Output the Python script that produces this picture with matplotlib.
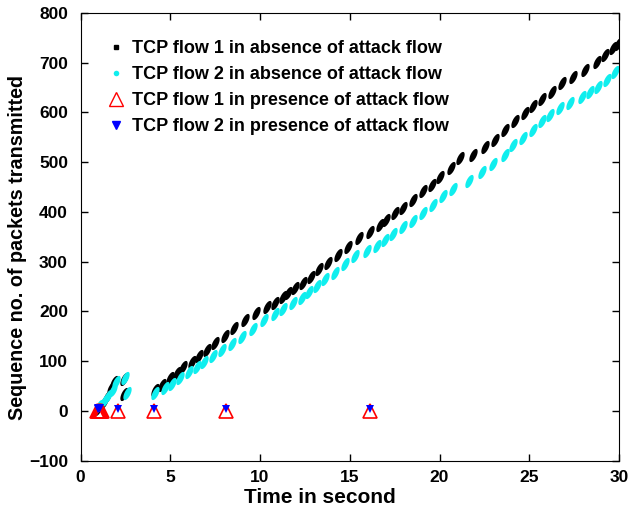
import numpy as np
import matplotlib
matplotlib.use("Agg")
import matplotlib.pyplot as plt
from matplotlib.path import Path
from matplotlib.lines import Line2D

plt.rcParams['font.family'] = ['Liberation Sans', 'DejaVu Sans']
plt.rcParams['font.weight'] = 'bold'

# ---- data (burst centres) ----
flow1_abs_t = [1.0, 1.3, 1.5, 1.72, 1.86, 2.42, 2.45,
               4.15, 4.52, 4.99, 5.36, 5.73, 6.19, 6.60, 7.03, 7.51, 8.05, 8.57, 9.16, 9.78,
               10.38, 10.84, 11.30, 11.58, 11.95, 12.38, 12.82, 13.30, 13.80, 14.33, 14.92,
               15.53, 16.13, 16.69, 17.02, 17.52, 17.98, 18.54, 19.10, 19.56, 20.03, 20.62,
               21.14, 21.85, 22.53, 23.09, 23.65, 24.20, 24.76, 25.23, 25.69, 26.25, 26.81,
               27.45, 28.10, 28.76, 29.22, 29.68, 29.96]
flow1_abs_seq = [3, 18, 28, 45, 57, 64, 33,
                 42, 52, 65, 75, 89, 99, 110, 122, 136, 150, 166, 183, 197,
                 208, 217, 228, 236, 246, 256, 270, 285, 298, 313, 329,
                 347, 360, 374, 384, 397, 407, 424, 441, 454, 470, 488,
                 508, 514, 530, 545, 565, 582, 598, 612, 628, 642, 659,
                 672, 685, 702, 716, 729, 737]

flow2_abs_t = [1.05, 1.35, 1.55, 1.8, 1.97, 2.5, 2.6,
               4.15, 4.71, 5.08, 5.54, 6.06, 6.47, 6.90, 7.36, 7.87, 8.42, 8.98, 9.59,
               10.23, 10.84, 11.30, 11.86, 12.32, 12.75, 13.16, 13.62, 14.18, 14.73, 15.29,
               15.94, 16.50, 16.95, 17.43, 17.98, 18.54, 19.10, 19.66, 20.21, 20.77, 21.66,
               22.35, 23.00, 23.65, 24.11, 24.67, 25.23, 25.69, 26.16, 26.69, 27.25, 27.92,
               28.38, 28.85, 29.32, 29.78]
flow2_abs_seq = [10, 22, 30, 42, 58, 66, 35,
                 35, 45, 54, 65, 79, 88, 99, 110, 122, 134, 148, 164,
                 183, 195, 204, 216, 226, 238, 251, 265, 278, 295, 311,
                 321, 332, 344, 356, 369, 382, 397, 414, 431, 446, 463,
                 481, 496, 515, 535, 548, 565, 582, 595, 608, 618, 632,
                 642, 652, 665, 682]

flow1_att_t = [0.92, 0.97, 1.02, 1.06, 1.1, 1.14, 1.18, 2.07, 4.09, 8.09, 16.1]
flow1_att_seq = [0, 0, 0, 0, 0, 0, 0, 0, 0, 0, 0]
flow2_att_t = [0.95, 1.0, 1.05, 1.1, 2.07, 4.09, 8.09, 16.1]
flow2_att_seq = [4, 6, 4, 6, 4, 4, 4, 4]

labels = ['TCP flow 1 in absence of attack flow',
          'TCP flow 2 in absence of attack flow',
          'TCP flow 1 in presence of attack flow',
          'TCP flow 2 in presence of attack flow']
xticks = [0, 5, 10, 15, 20, 25, 30]
yticks = [-100, 0, 100, 200, 300, 400, 500, 600, 700, 800]

# ---- slanted dash marker ----
ang = np.deg2rad(64)
th = np.linspace(0, 2 * np.pi, 40)
ex, ey = 1.0 * np.cos(th), 0.42 * np.sin(th)
vx = ex * np.cos(ang) - ey * np.sin(ang)
vy = ex * np.sin(ang) + ey * np.cos(ang)
dash = Path(np.column_stack([vx, vy]), closed=True)

CYAN = '#10EEEE'

fig = plt.figure(figsize=(6.31, 5.11), dpi=100)
ax = fig.add_axes([0.1276, 0.0988, 0.8534, 0.8758])

ax.plot(flow1_abs_t, flow1_abs_seq, linestyle='none', marker=dash,
        markersize=9.5, color='black', markeredgewidth=0)
ax.plot(flow2_abs_t, flow2_abs_seq, linestyle='none', marker=dash,
        markersize=9.5, color=CYAN, markeredgewidth=0)
ax.plot(flow1_att_t, flow1_att_seq, linestyle='none', marker='^',
        markersize=9.5, markerfacecolor='none', markeredgecolor='red',
        markeredgewidth=1.2)
ax.plot(flow2_att_t, flow2_att_seq, linestyle='none', marker='v',
        markersize=6, color='blue', markeredgewidth=0)

ax.set_xlim(0, 30)
ax.set_ylim(-100, 800)
ax.set_xticks(xticks)
ax.set_yticks(yticks)
ax.tick_params(direction='in', length=5, top=True, right=True,
               labelsize=12.5, width=1)
ax.tick_params(axis='x', pad=7)
ax.tick_params(axis='y', pad=9)
for lab in ax.get_xticklabels() + ax.get_yticklabels():
    lab.set_fontweight('bold')
ax.set_xlabel('Time in second', fontsize=15, fontweight='bold')
ax.set_ylabel('Sequence no. of packets transmitted', fontsize=14.2,
              fontweight='bold')
ax.xaxis.set_label_coords(0.445, -0.061)
ax.yaxis.set_label_coords(-0.100, 0.477)

handles = [
    Line2D([], [], linestyle='none', marker='s', markersize=3, color='black'),
    Line2D([], [], linestyle='none', marker='o', markersize=4, color=CYAN,
           markeredgewidth=0),
    Line2D([], [], linestyle='none', marker='^', markersize=10,
           markerfacecolor='none', markeredgecolor='red', markeredgewidth=1),
    Line2D([], [], linestyle='none', marker='v', markersize=6, color='blue'),
]
leg = ax.legend(handles, labels, loc='upper left', bbox_to_anchor=(0.04, 0.955),
                frameon=False, prop={'weight': 'bold', 'size': 13},
                handlelength=0.8, handletextpad=0.45, labelspacing=0.5,
                borderaxespad=0)

fig.savefig('out.png', dpi=100)
